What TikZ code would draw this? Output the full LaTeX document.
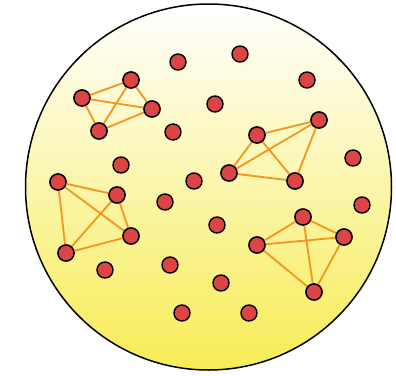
\documentclass[tikz,border=0pt]{standalone}
\begin{document}
\begin{tikzpicture}[x=1pt,y=-1pt,
  dot/.style={circle,draw=black,line width=1.4pt,fill=dotred,minimum size=16pt,inner sep=0pt},
  link/.style={draw=linkorange,line width=1.8pt}]
\definecolor{dotred}{HTML}{DD4545}
\definecolor{linkorange}{HTML}{F7941D}
\definecolor{bowlyellow}{HTML}{F7EC55}
\useasboundingbox (0,0) rectangle (396,375);
\path[top color=white,bottom color=bowlyellow,draw=black,line width=1.5pt] (208.5,187) circle (183);
% cluster A
\node[dot] (a1) at (82,98) {};
\node[dot] (a2) at (131,80) {};
\node[dot] (a3) at (152,109) {};
\node[dot] (a4) at (99,131) {};
% cluster B
\node[dot] (b1) at (319,120) {};
\node[dot] (b2) at (257,135) {};
\node[dot] (b3) at (229,173) {};
\node[dot] (b4) at (295,181) {};
% cluster C
\node[dot] (c1) at (58,182) {};
\node[dot] (c2) at (117,195) {};
\node[dot] (c3) at (131,236) {};
\node[dot] (c4) at (66,253) {};
% cluster D
\node[dot] (d1) at (303,217) {};
\node[dot] (d2) at (344,237) {};
\node[dot] (d3) at (257,245) {};
\node[dot] (d4) at (314,292) {};
\foreach \g in {a,b,c,d}{
  \draw[link] (\g1) -- (\g2) (\g1) -- (\g3) (\g1) -- (\g4)
              (\g2) -- (\g3) (\g2) -- (\g4) (\g3) -- (\g4);
}
% redraw cluster dots on top of links
\foreach \n in {a1,a2,a3,a4,b1,b2,b3,b4,c1,c2,c3,c4,d1,d2,d3,d4}{
  \node[dot] at (\n) {};
}
% isolated dots
\node[dot] (i1) at (178,62) {};
\node[dot] (i2) at (173,132) {};
\node[dot] (i3) at (121,165) {};
\node[dot] (i4) at (240,54) {};
\node[dot] (i5) at (307,80) {};
\node[dot] (i6) at (215,104) {};
\node[dot] (i7) at (353,158) {};
\node[dot] (i8) at (194,181) {};
\node[dot] (i9) at (165,202) {};
\node[dot] (i10) at (105,270) {};
\node[dot] (i11) at (170,265) {};
\node[dot] (i12) at (182,313) {};
\node[dot] (i13) at (217,225) {};
\node[dot] (i14) at (362,205) {};
\node[dot] (i15) at (221,283) {};
\node[dot] (i16) at (249,313) {};
\end{tikzpicture}
\end{document}
